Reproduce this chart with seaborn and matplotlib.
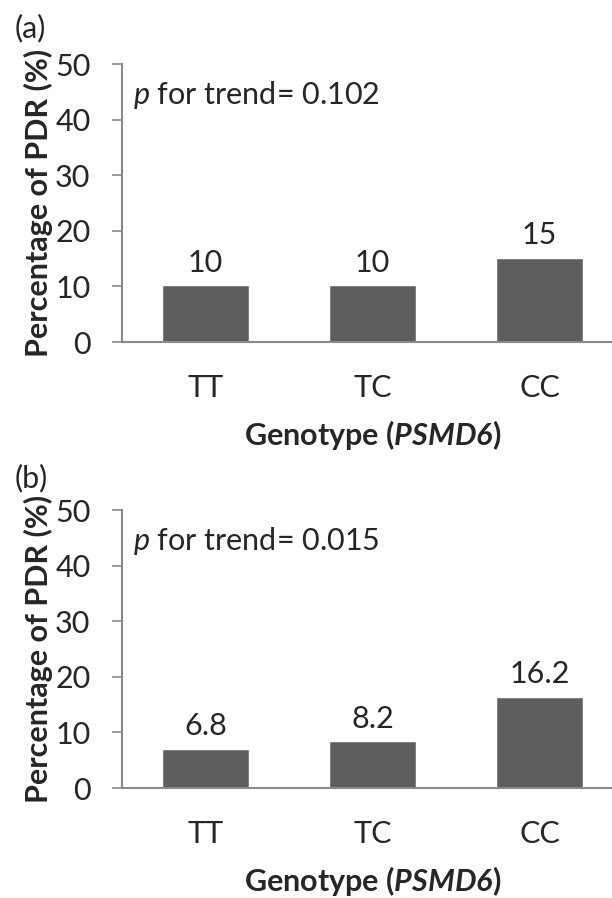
import matplotlib
matplotlib.use("Agg")
import matplotlib.pyplot as plt
import seaborn as sns
import pandas as pd

# ---- data ----
genotypes = ["TT", "TC", "CC"]
pdr_a = [10, 10, 15]
pdr_b = [6.8, 8.2, 16.2]
labels_a = ["10", "10", "15"]
labels_b = ["6.8", "8.2", "16.2"]
p_a = "0.102"
p_b = "0.015"
yticks = [0, 10, 20, 30, 40, 50]

sns.set_theme(style="white")
FONT = "Lato"
plt.rcParams["font.family"] = [FONT, "DejaVu Sans"]
plt.rcParams["mathtext.fontset"] = "custom"
plt.rcParams["mathtext.rm"] = FONT
plt.rcParams["mathtext.it"] = FONT + ":italic"
plt.rcParams["mathtext.bf"] = FONT + ":bold"
plt.rcParams["mathtext.bfit"] = FONT + ":bold:italic"

FS = 22
AXC = "#8a8a8a"
BARC = "#5d5d5d"

W, H = 612, 898
fig = plt.figure(figsize=(W / 100, H / 100), dpi=100)

def panel(bottom_px, vals, labs, pval, tag, tag_top_px):
    ax = fig.add_axes([122 / W, (H - bottom_px) / H, 501 / W, 278 / H])
    df = pd.DataFrame({"Genotype": genotypes, "PDR": vals})
    sns.barplot(data=df, x="Genotype", y="PDR", color=BARC, saturation=1,
                width=0.51, ax=ax, edgecolor="#7a7a7a", linewidth=0.6)
    ax.set_xlim(-0.5, 2.5)
    ax.set_ylim(0, 50)
    ax.set_yticks(yticks)
    for s in ["top", "right"]:
        ax.spines[s].set_visible(False)
    for s in ["left", "bottom"]:
        ax.spines[s].set_color(AXC)
        ax.spines[s].set_linewidth(1.5)
    ax.tick_params(axis="y", direction="out", length=7.2, width=1.2,
                   color=AXC, pad=15.5, labelsize=FS, left=True)
    ax.tick_params(axis="x", length=0, pad=23, labelsize=FS)
    ax.bar_label(ax.containers[0], labels=labs, padding=7, fontsize=FS)
    ax.set_ylabel("Percentage of PDR (%)", fontsize=FS, fontweight="bold")
    ax.yaxis.set_label_coords(-0.137, 0.5)
    ax.set_xlabel(r"Genotype ($\mathbfit{PSMD6}$)", fontsize=FS, fontweight="bold")
    ax.xaxis.set_label_coords(0.5, -0.272)
    ax.text(0.022, 0.945, r"$\mathit{p}$ for trend= " + pval, transform=ax.transAxes,
            fontsize=FS, va="top", ha="left")
    fig.text(15 / W, 1 - tag_top_px / H, tag, fontsize=FS, va="top", ha="left")
    return ax

panel(342, pdr_a, labels_a, p_a, "(a)", 14)
panel(788, pdr_b, labels_b, p_b, "(b)", 464)

fig.savefig("out.png", dpi=100)
